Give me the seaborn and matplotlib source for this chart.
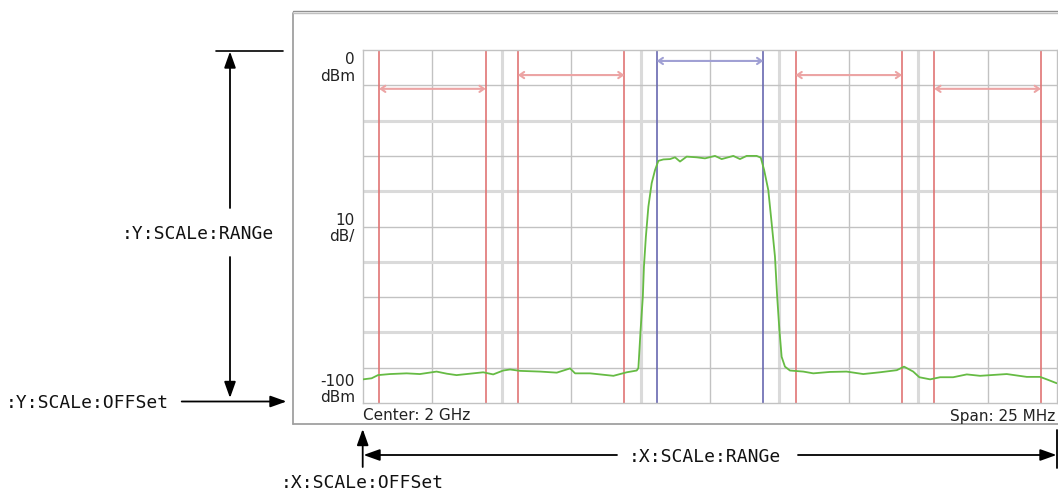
import matplotlib
matplotlib.use("Agg")
import matplotlib.pyplot as plt
import numpy as np
import pandas as pd
import seaborn as sns

# ---------------- data ----------------
# spectrum trace (offset from center frequency in MHz, level in dBm)
trace_freq_mhz = [
    -12.50, -12.19, -11.96, -11.53, -10.93, -10.45, -9.85, -9.48, -9.13, -8.53,
    -8.17, -7.81, -7.45, -7.20, -6.84, -6.12, -5.52, -5.04, -4.86, -4.32,
    -3.48, -3.00, -2.64,
    -2.58, -2.50, -2.42, -2.38, -2.31, -2.22, -2.10, -1.98,
    -1.86, -1.68, -1.44, -1.26, -1.08, -0.84, -0.48, -0.18, 0.18, 0.42,
    0.84, 1.08, 1.32, 1.68, 1.83,
    1.95, 2.10, 2.22, 2.34, 2.42, 2.50, 2.58, 2.70,
    2.88, 3.36, 3.72, 4.32, 4.92, 5.52, 6.12, 6.73, 6.99, 7.32,
    7.54, 7.93, 8.29, 8.76, 9.25, 9.73, 10.69, 11.41, 11.89, 12.13, 12.49,
]
trace_level_dbm = [
    -93.3, -93.0, -92.1, -91.8, -91.6, -91.8, -91.1, -91.7, -92.1, -91.6,
    -91.3, -91.9, -90.8, -90.5, -90.9, -91.1, -91.4, -90.2, -91.6, -91.6,
    -92.3, -91.3, -90.8,
    -90.1, -79.3, -69.9, -61.4, -52.9, -44.4, -37.7, -34.0,
    -31.4, -31.0, -30.9, -30.4, -31.6, -30.2, -30.4, -30.7, -30.0, -30.9,
    -30.0, -30.9, -30.0, -30.0, -30.5,
    -34.0, -39.7, -49.0, -58.5, -69.9, -79.3, -86.9, -89.7,
    -90.8, -91.1, -91.6, -91.2, -91.1, -91.8, -91.3, -90.7, -89.7, -91.1,
    -92.7, -93.3, -92.7, -92.7, -91.9, -92.3, -91.8, -92.6, -92.6, -93.3, -94.4,
]

# channels (ACLR measurement)
channel_center_mhz = [-10, -5, 0, 5, 10]
channel_bandwidth_mhz = 3.84
channel_is_main = [False, False, True, False, False]
channel_arrow_dbm = [-11.0, -7.1, -3.1, -7.1, -11.0]

x_span = (-12.5, 12.5)
y_range = (-100, 0)
y_labels = [("0", "dBm"), ("10", "dB/"), ("-100", "dBm")]
center_label = "Center: 2 GHz"
span_label = "Span: 25 MHz"
annot_y_range = ":Y:SCALe:RANGe"
annot_y_offset = ":Y:SCALe:OFFSet"
annot_x_range = ":X:SCALe:RANGe"
annot_x_offset = ":X:SCALe:OFFSet"

# ---------------- style ----------------
sns.set_theme(style="white")
plt.rcParams["font.family"] = ["DejaVu Sans"]

W, H = 1058, 493
fig = plt.figure(figsize=(W / 100, H / 100), dpi=100)
fig.patch.set_facecolor("white")

ax = fig.add_axes([363 / W, 90 / H, 694 / W, 353 / H])
ax.set_xlim(*x_span)
ax.set_ylim(*y_range)
ax.set_facecolor("white")

# grid: odd divisions normal, even divisions light & thick
ax.set_xticks([-7.5, -2.5, 2.5, 7.5])
ax.set_xticks([-10, -5, 0, 5, 10], minor=True)
ax.set_yticks([-80, -60, -40, -20])
ax.set_yticks([-90, -70, -50, -30, -10], minor=True)
ax.grid(which="major", color="#dadada", lw=2.2, zorder=0)
ax.grid(which="minor", color="#c2c2c2", lw=1.0, zorder=0)
ax.tick_params(which="both", length=0, labelbottom=False, labelleft=False)
for s in ax.spines.values():
    s.set_color("#c2c2c2")
    s.set_linewidth(1.0)
ax.set_axisbelow(True)

# channel boundaries and width arrows
for c, main, lvl in zip(channel_center_mhz, channel_is_main, channel_arrow_dbm):
    lo, hi = c - channel_bandwidth_mhz / 2, c + channel_bandwidth_mhz / 2
    lc = "#6868b0" if main else "#e07474"
    ac = "#a0a0d4" if main else "#eca4a4"
    for e in (lo, hi):
        ax.axvline(e, color=lc, lw=1.2, zorder=2)
    ax.annotate("", xy=(hi, lvl), xytext=(lo, lvl),
                arrowprops=dict(arrowstyle="<->,head_length=0.4,head_width=0.28",
                                color=ac, lw=1.5, shrinkA=0, shrinkB=0,
                                mutation_scale=8), zorder=2)

df = pd.DataFrame({"freq": trace_freq_mhz, "level": trace_level_dbm})
sns.lineplot(data=df, x="freq", y="level", ax=ax, color="#66bb44", lw=1.3,
             estimator=None, sort=False, legend=False, zorder=3)
ax.set_xlabel("")
ax.set_ylabel("")

# ---------------- overlay in pixel coords ----------------
ov = fig.add_axes([0, 0, 1, 1])
ov.set_xlim(0, W)
ov.set_ylim(H, 0)
ov.axis("off")
ov.patch.set_alpha(0)

# instrument frame
fc = "#a0a0a0"
ov.plot([293.3, 293.3], [13, 424], color=fc, lw=1.3)
ov.plot([293.3, W + 5], [424, 424], color=fc, lw=1.3)
ov.plot([293.3, W + 5], [11, 11], color="#909090", lw=1.0)
ov.plot([293.3, W + 5], [13.3, 13.3], color="#c0c0c0", lw=1.0)

txt = "#222222"
# y scale labels
yl_base = [(64, 81), (225, 241), (386, 402)]
for (v, u), (b1, b2) in zip(y_labels, yl_base):
    ov.text(355, b1, v, ha="right", va="baseline", fontsize=11, color=txt)
    ov.text(355, b2, u, ha="right", va="baseline", fontsize=11, color=txt)

ov.text(363, 420.5, center_label, ha="left", va="baseline", fontsize=11, color=txt)
ov.text(1055, 420.5, span_label, ha="right", va="baseline", fontsize=11, color=txt)


def arrow(x0, y0, x1, y1):
    ov.annotate("", xy=(x1, y1), xytext=(x0, y0),
                arrowprops=dict(arrowstyle="-|>,head_length=0.7,head_width=0.25",
                                color="black", lw=1.3, shrinkA=0, shrinkB=0,
                                mutation_scale=14))


mono = dict(family="DejaVu Sans Mono", fontsize=13, color="#111111", va="baseline")

# Y range
ov.plot([216, 283], [50.7, 50.7], color="black", lw=1.2)
arrow(230, 208, 230, 51.5)
arrow(230, 257, 230, 398)
ov.text(122, 239.3, annot_y_range, ha="left", **mono)
# Y offset
arrow(181.7, 401.5, 286.5, 401.5)
ov.text(5.5, 408.3, annot_y_offset, ha="left", **mono)
# X offset
arrow(362.7, 467, 362.7, 429)
ov.text(280.5, 488.0, annot_x_offset, ha="left", **mono)
# X range
arrow(617, 455, 363.5, 455)
arrow(798, 455, 1056.5, 455)
ov.plot([1056.5, 1056.5], [430, 468], color="black", lw=1.3)
ov.text(629, 462.5, annot_x_range, ha="left", **mono)

fig.savefig("out.png", dpi=100, facecolor="white")
